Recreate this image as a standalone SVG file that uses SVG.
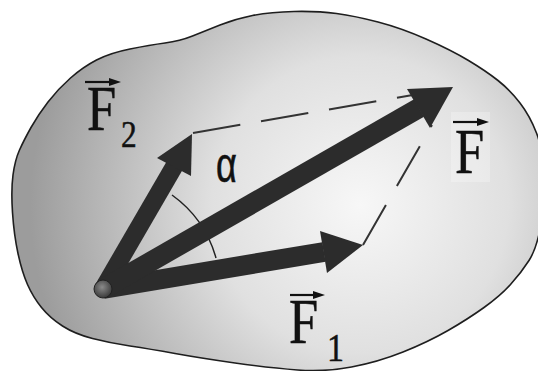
<svg xmlns="http://www.w3.org/2000/svg" width="538" height="371" viewBox="0 0 538 371">
<defs>
<radialGradient id="bg" gradientUnits="userSpaceOnUse" cx="360" cy="205" r="330">
<stop offset="0" stop-color="#f7f7f7"/>
<stop offset="0.45" stop-color="#e0e0e0"/>
<stop offset="1" stop-color="#9c9c9c"/>
</radialGradient>
<radialGradient id="ball" cx="0.45" cy="0.4" r="0.6">
<stop offset="0" stop-color="#8a8a8a"/>
<stop offset="1" stop-color="#3a3a3a"/>
</radialGradient>
<style>
.shaft{stroke:#2c2c2c;stroke-linecap:butt;fill:none}
.head{fill:#2c2c2c}
.dash{stroke:#333;stroke-width:2;fill:none}
.lbl{font-family:"Liberation Serif","Times New Roman",serif;fill:#111;stroke:#111;stroke-width:0.5}
.vec{stroke:#111;stroke-width:2.2}
.vh{fill:#111}
</style>
</defs>
<rect width="538" height="371" fill="#fff"/>
<g id="body">
<path d="M96.5,60 Q110,53 130,49 Q150,45 165,43 Q180,41 192.5,36 Q205,31 220,25 Q235,19 252.5,15.5 Q270,12 294,11.5 Q318,11 336.5,13.5 Q355,16 378,22 Q401,28 426,39 Q451,50 468.5,60.5 Q486,71 498,80.5 Q510,90 520,103 Q530,116 536.5,133 Q543,150 544,175 Q545,200 541,224 Q537,248 529,260.5 Q521,273 510.5,284.5 Q500,296 484,307.5 Q468,319 448,330.5 Q428,342 403,352 Q378,362 351.5,367 Q325,372 297.5,370 Q270,368 235,363 Q200,358 175,353.5 Q150,349 130,346 Q110,343 92.5,338.5 Q75,334 62.5,326 Q50,318 41.5,307.5 Q33,297 27.5,284.5 Q22,272 18,253.5 Q14,235 12.5,212.5 Q11,190 13,175 Q15,160 19.5,150 Q24,140 31,127.5 Q38,115 48,102 Q58,89 70.5,78 Q83,67 96.5,60 Z" fill="url(#bg)" stroke="#1e1e1e" stroke-width="1.6"/>
<rect x="451" y="112" width="39" height="70" fill="#fff" opacity="0.25"/>
</g>
<g id="connectors">
<path class="dash" d="M193,133 L453,88" stroke-dasharray="48 21"/>
<path class="dash" d="M363,245 L432,125" stroke-dasharray="46 22"/>
<path id="angle-arc" d="M172,195 A116,116 0 0,1 216,258" fill="none" stroke="#222" stroke-width="1.5"/>
</g>
<g id="F2-arrow">
<line class="shaft" x1="103" y1="289" x2="175" y2="165" stroke-width="18"/>
<polygon class="head" points="157,158 192,134 191,176"/>
</g>
<g id="F1-arrow">
<line class="shaft" x1="103" y1="289" x2="324" y2="252" stroke-width="20"/>
<polygon class="head" points="320,231 363,245 327,273"/>
</g>
<g id="F-arrow">
<line class="shaft" x1="103" y1="289" x2="419" y2="108" stroke-width="20"/>
<polygon class="head" points="407,89 453,87 430,128"/>
</g>
<g id="origin">
<circle cx="103" cy="289" r="9" fill="url(#ball)" stroke="#222" stroke-width="1"/>
</g>
<g id="label-F2">
<line class="vec" x1="85" y1="82" x2="112" y2="82"/>
<polygon class="vh" points="109,78 121,82 109,86"/>
<text class="lbl" transform="translate(87,130) scale(0.82,1)" font-size="64">F</text>
<text class="lbl" transform="translate(121,147) scale(0.85,1)" font-size="37">2</text>
</g>
<g id="label-F">
<line class="vec" x1="453" y1="122" x2="480" y2="122"/>
<polygon class="vh" points="477,118 489,122 477,126"/>
<text class="lbl" transform="translate(455,173) scale(0.82,1)" font-size="64">F</text>
</g>
<g id="label-F1">
<line class="vec" x1="290" y1="295" x2="316" y2="295"/>
<polygon class="vh" points="313,291 325,295 313,299"/>
<text class="lbl" transform="translate(289,343) scale(0.82,1)" font-size="64">F</text>
<text class="lbl" transform="translate(327,361) scale(0.85,1)" font-size="40">1</text>
</g>
<g id="label-alpha">
<text transform="translate(216,182) scale(0.72,1)" font-family="Liberation Sans, Arial, sans-serif" font-size="50" fill="#111" stroke="#111" stroke-width="0.6">α</text>
</g>
</svg>
